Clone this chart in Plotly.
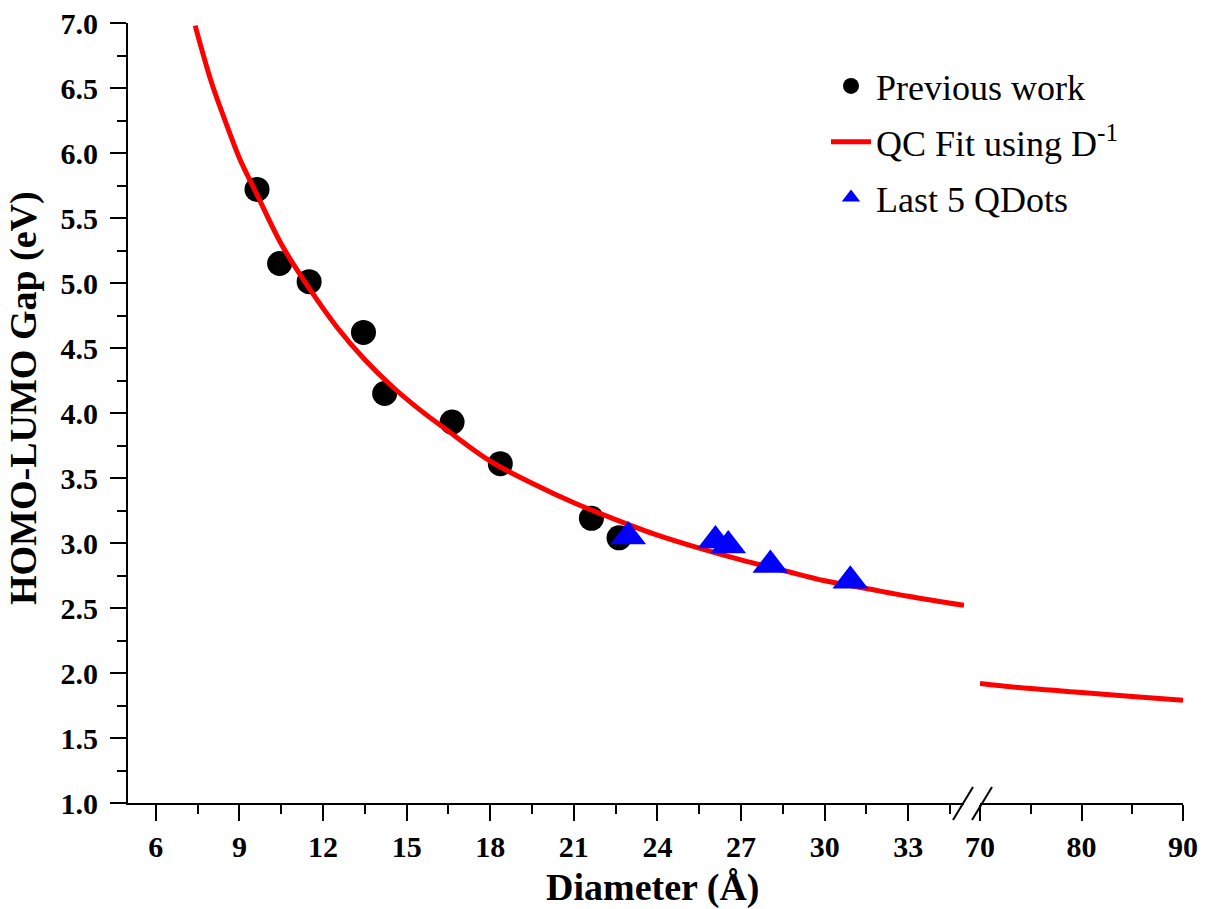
import plotly.graph_objects as go

# ---- data ----
prev_D = [9.63, 10.44, 11.50, 13.45, 14.21, 16.63, 18.36, 21.63, 22.62]
prev_E = [5.72, 5.15, 5.01, 4.62, 4.15, 3.93, 3.61, 3.19, 3.04]

qd_D = [22.95, 26.08, 26.54, 28.05, 30.92]
qd_E = [3.05, 3.02, 2.98, 2.83, 2.71]

fit_D_left = [7.41, 8.0, 8.5, 9.0, 9.63, 10.5, 11.5, 12.5, 13.5, 14.5, 15.5, 16.5,
              18.0, 19.5, 21.0, 22.5, 24.0, 25.5, 27.0, 28.5, 30.0, 31.5, 33.0, 35.0]
fit_E_left = [6.98, 6.54, 6.24, 5.96, 5.68, 5.30, 4.96, 4.66, 4.41, 4.20, 4.02, 3.86,
              3.63, 3.46, 3.31, 3.18, 3.06, 2.96, 2.87, 2.79, 2.71, 2.65, 2.59, 2.52]
fit_D_right = [70, 75, 80, 85, 90]
fit_E_right = [1.92, 1.88, 1.85, 1.82, 1.79]

x_left_ticks = [6, 9, 12, 15, 18, 21, 24, 27, 30, 33]
x_right_ticks = [70, 80, 90]

SERIF = "Liberation Serif"

fig = go.Figure()

fig.add_trace(go.Scatter(
    x=prev_D, y=prev_E, mode="markers", name="Previous work",
    marker=dict(symbol="circle", size=25, color="black"),
    xaxis="x", yaxis="y", legendgroup="a"))

fig.add_trace(go.Scatter(
    x=fit_D_left, y=fit_E_left, mode="lines", name="QC Fit using D<sup>-1</sup>",
    line=dict(color="#ff0000", width=5, shape="spline"),
    xaxis="x", yaxis="y", legendgroup="b"))

fig.add_trace(go.Scatter(
    x=fit_D_right, y=fit_E_right, mode="lines", showlegend=False,
    line=dict(color="#ff0000", width=5, shape="spline"),
    xaxis="x2", yaxis="y", legendgroup="b"))

fig.add_trace(go.Scatter(
    x=qd_D, y=qd_E, mode="markers", name="Last 5 QDots",
    marker=dict(symbol="triangle-up", size=31, color="#0000ff"),
    xaxis="x", yaxis="y", legendgroup="c"))

# page body adds an 8px margin, so the figure is drawn 8px in from the window edge
OFF = 8
W, H = 1210 - OFF, 909 - OFF
PL, PR, PT, PB = 128, 1183, 23, 803       # plot area in window pixels
L, R, T, B = PL - OFF, W - (PR - OFF), PT - OFF, H - (PB - OFF)
pw = PR - PL
ph = PB - PT


def px(xp):
    return (xp - PL) / pw


def py(yp):
    return (PB - yp) / ph


tickfont = dict(family=SERIF, size=30, color="black", weight="bold")
axis_common = dict(
    showline=True, linecolor="black", linewidth=2,
    ticks="outside", ticklen=16, tickwidth=2, tickcolor="black",
    showgrid=False, zeroline=False, tickfont=tickfont,
    ticklabeloverflow="allow", automargin=False,
)

fig.update_layout(
    width=W, height=H,
    margin=dict(l=L, r=R, t=T, b=B, autoexpand=False),
    paper_bgcolor="white", plot_bgcolor="white",
    xaxis=dict(domain=[0, px(964)], range=[5, 35], tickvals=x_left_ticks,
               minor=dict(dtick=1.5, tick0=6, ticks="outside", ticklen=9,
                          tickwidth=2, tickcolor="black"),
               anchor="y", ticklabelstandoff=0, **axis_common),
    xaxis2=dict(domain=[px(980), 1], range=[70, 90], tickvals=x_right_ticks,
                minor=dict(dtick=5, tick0=70, ticks="outside", ticklen=9,
                           tickwidth=2, tickcolor="black"),
                anchor="y", ticklabelstandoff=0, **axis_common),
    yaxis=dict(range=[1, 7], dtick=0.5, tick0=1, tickformat=".1f",
               minor=dict(dtick=0.25, tick0=1, ticks="outside", ticklen=9,
                          tickwidth=2, tickcolor="black"),
               anchor="x", ticklabelstandoff=6, **axis_common),
    legend=dict(x=px(826), y=py(56), xanchor="left", yanchor="top",
                font=dict(family=SERIF, size=36, color="black"),
                bgcolor="rgba(0,0,0,0)", tracegroupgap=6,
                traceorder="grouped", itemwidth=40),
    showlegend=True,
)

fig.add_annotation(text="<b>Diameter (Å)</b>", xref="paper", yref="paper",
                   x=px(652), y=py(887), xanchor="center", yanchor="middle",
                   showarrow=False, font=dict(family=SERIF, size=38, color="black"))
fig.add_annotation(text="<b>HOMO-LUMO Gap (eV)</b>", xref="paper", yref="paper",
                   x=px(24), y=py(398), xanchor="center", yanchor="middle",
                   textangle=-90, showarrow=False,
                   font=dict(family=SERIF, size=38, color="black"))

# axis break marks
for x0, x1 in [(953, 973), (972, 992)]:
    fig.add_shape(type="line", xref="paper", yref="paper",
                  x0=px(x0), y0=py(820), x1=px(x1), y1=py(787),
                  line=dict(color="black", width=2))

fig.write_html("out.html")
